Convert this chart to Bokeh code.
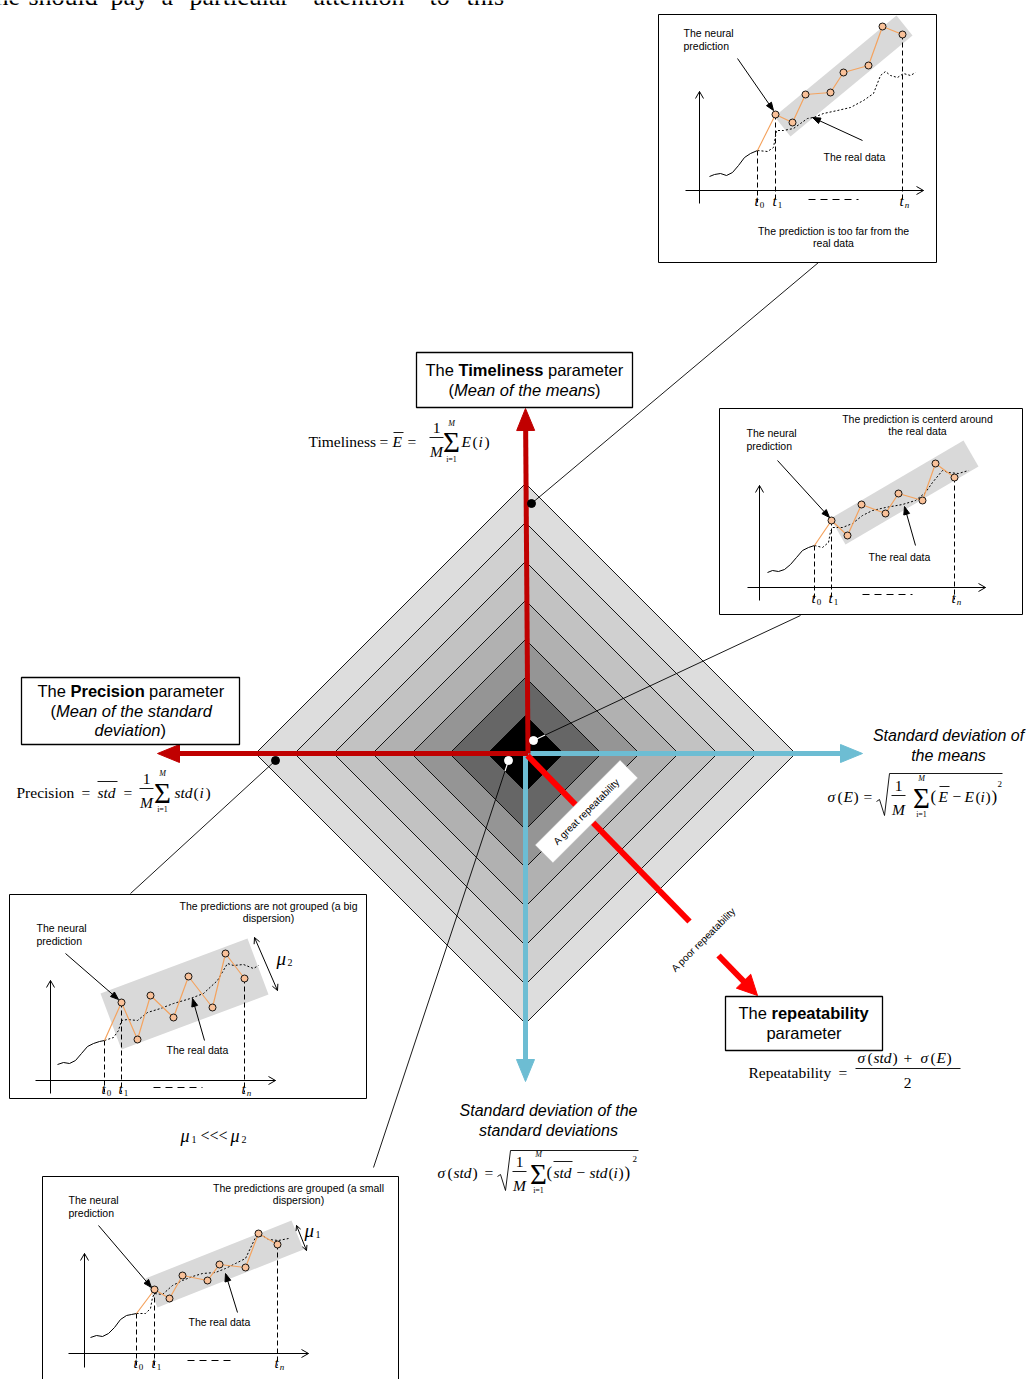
import numpy as np
from bokeh.plotting import figure
from bokeh.models import Range1d
from bokeh.core.properties import value
from bokeh.embed import file_html
from bokeh.resources import INLINE

# ---------------- data (reference pixel coordinates, y grows downward) ----------------
CENTER_X, CENTER_Y = 525, 753
DIAMOND_HALF = [270, 231, 192, 153, 114, 76, 38]
DIAMOND_FILL = ["#dddddd", "#d0d0d0", "#c2c2c2", "#b1b1b1", "#959595", "#666666", "#000000"]

# cut-off body text line at the very top of the page
TOP_WORDS = ["he", "should", "pay", "a", "particular", "attention", "to", "this"]
TOP_WORD_X = [-5, 28, 110, 161, 189, 313, 429, 466]

# inset 1: prediction too far from the real data
FAR_T_X = [757, 775, 902]
FAR_PRED_X = [757, 775, 792, 805, 830, 843, 868, 882, 902]
FAR_PRED_Y = [150, 114, 122, 94, 92, 72, 65, 26, 34]
FAR_WIGGLE_X = [709, 714, 720, 726, 732, 738, 744, 750, 757]
FAR_WIGGLE_Y = [176, 174, 173, 175, 172, 165, 157, 153, 150]
FAR_REAL_X = [757, 767, 773, 776, 783, 793, 800, 807, 813, 823, 837, 850, 863, 873, 880, 885, 890, 897, 903, 910, 915]
FAR_REAL_Y = [150, 151, 147, 130, 130, 128, 123, 118, 117, 113, 110, 107, 100, 93, 75, 71, 75, 77, 73, 75, 72]

# inset 2: prediction centred around the real data
CEN_T_X = [814, 831, 954]
CEN_PRED_X = [814, 831, 847, 861, 885, 898, 922, 935, 954]
CEN_PRED_Y = [545, 520, 535, 504, 513, 493, 500, 463, 477]
CEN_WIGGLE_X = [767, 772, 778, 784, 790, 796, 802, 808, 814]
CEN_WIGGLE_Y = [572, 570, 571, 569, 564, 557, 550, 547, 545]
CEN_REAL_X = [814, 822, 828, 830, 832, 842, 852, 862, 872, 885, 902, 915, 925, 932, 942, 948, 958, 968]
CEN_REAL_Y = [545, 547, 542, 531, 527, 527, 523, 515, 510, 507, 504, 500, 492, 482, 470, 472, 473, 470]

# inset 3: predictions not grouped (big dispersion)
SPR_T_X = [104, 121, 244]
SPR_PRED_X = [104, 121, 137, 150, 173, 188, 212, 225, 244]
SPR_PRED_Y = [1040, 1002, 1039, 995, 1017, 976, 1007, 953, 978]
SPR_WIGGLE_X = [57, 63, 69, 75, 81, 87, 93, 99, 104]
SPR_WIGGLE_Y = [1064, 1062, 1063, 1060, 1053, 1046, 1043, 1041, 1040]
SPR_REAL_X = [104, 113, 118, 121, 127, 137, 147, 160, 173, 190, 203, 217, 227, 233, 243, 253, 258]
SPR_REAL_Y = [1040, 1037, 1030, 1020, 1019, 1020, 1012, 1008, 1003, 998, 993, 980, 963, 965, 964, 968, 965]

# inset 4: predictions grouped (small dispersion)
GRP_T_X = [136, 154, 277]
GRP_PRED_X = [136, 154, 169, 182, 207, 219, 245, 258, 277]
GRP_PRED_Y = [1313, 1289, 1298, 1275, 1280, 1264, 1267, 1233, 1244]
GRP_WIGGLE_X = [90, 96, 102, 108, 114, 120, 126, 131, 136]
GRP_WIGGLE_Y = [1337, 1335, 1336, 1333, 1327, 1319, 1315, 1314, 1313]
GRP_REAL_X = [136, 145, 150, 152, 154, 162, 172, 182, 192, 202, 215, 225, 235, 245, 255, 262, 268, 278, 288]
GRP_REAL_Y = [1313, 1313, 1308, 1297, 1293, 1294, 1285, 1280, 1276, 1273, 1272, 1268, 1263, 1258, 1237, 1235, 1239, 1240, 1238]

T_LABELS = ["0", "1", "n"]

# ---------------- figure ----------------
p = figure(width=1029, height=1379, x_range=Range1d(0, 1029), y_range=Range1d(1379, 0),
           output_backend="svg", toolbar_location=None, min_border=0,
           x_axis_location=None, y_axis_location=None)
p.xgrid.visible = False
p.ygrid.visible = False
p.outline_line_color = None
p.background_fill_color = "white"

SANS = "Liberation Sans"
SERIF = "Liberation Serif"
ORANGE = "#f4a35f"
DARKRED = "#c00000"
RED = "#ff0000"
BLUE = "#6dbdd3"


def T(x, y, s, size=10.5, font=SANS, style="normal", align="left", baseline="middle", angle=0.0, color="black"):
    p.text(x=[x], y=[y], text=[s], text_font=value(font), text_font_size=f"{size}px",
           text_font_style=style, text_align=align, text_baseline=baseline, angle=angle,
           text_color=color)


def L(xs, ys, color="black", width=1.0, dash="solid"):
    p.line(xs, ys, line_color=color, line_width=width, line_dash=dash)


def head(x1, y1, ux, uy, hl, hw, color, filled=True, lw=1.0):
    bx, by = x1 - ux * hl, y1 - uy * hl
    px, py = -uy, ux
    xs = [bx + px * hw / 2, x1, bx - px * hw / 2]
    ys = [by + py * hw / 2, y1, by - py * hw / 2]
    if filled:
        p.patch(xs, ys, fill_color=color, line_color=color, line_width=1)
    else:
        L(xs, ys, color, lw)


def arrow(x0, y0, x1, y1, color="black", lw=1.0, hl=8, hw=6, filled=True, both=False):
    d = np.hypot(x1 - x0, y1 - y0)
    ux, uy = (x1 - x0) / d, (y1 - y0) / d
    cut = hl * 0.7 if filled else 0
    sx, sy = (x0 + ux * cut, y0 + uy * cut) if both else (x0, y0)
    L([sx, x1 - ux * cut], [sy, y1 - uy * cut], color, lw)
    head(x1, y1, ux, uy, hl, hw, color, filled, lw)
    if both:
        head(x0, y0, -ux, -uy, hl, hw, color, filled, lw)


def t_label(x, yc, sub):
    T(x - 1, yc, "t", 15, SERIF, "italic", "center")
    T(x + 4.5, yc + 4, sub, 9, SERIF, "italic" if sub == "n" else "normal", "center")


def inset(box, yaxis, xaxis, t_x, t_c, t_top, dash_seg, band,
          pred_x, pred_y, wig_x, wig_y, real_x, real_y,
          neural_xy, neural_arrow, real_xy, real_arrow, caption, cap_xy):
    x0, y0, x1, y1 = box
    p.quad(left=[x0], right=[x1], top=[y0], bottom=[y1], fill_color="white",
           line_color="black", line_width=1)
    p.patch([c[0] for c in band], [c[1] for c in band], fill_color="#d9d9d9", line_color=None)
    arrow(yaxis[0], yaxis[1], yaxis[0], yaxis[2], hl=7, hw=8, filled=False)
    arrow(xaxis[1], xaxis[0], xaxis[2], xaxis[0], hl=7, hw=8, filled=False)
    for tx, ty in zip(t_x, t_top):
        L([tx, tx], [ty, xaxis[0] + 12], dash="5 3")
    L([dash_seg[0], dash_seg[1]], [dash_seg[2], dash_seg[2]], dash="7 5")
    for tx, s in zip(t_x, T_LABELS):
        t_label(tx, t_c, s)
    L(wig_x, wig_y, "black", 1)
    L(real_x, real_y, "black", 1, "2 2")
    L(pred_x, pred_y, ORANGE, 1.2)
    p.scatter(pred_x[1:], pred_y[1:], size=7, fill_color="#f9c199", line_color="black", line_width=0.9)
    T(neural_xy[0], neural_xy[1], "The neural")
    T(neural_xy[0], neural_xy[1] + 13, "prediction")
    arrow(*neural_arrow, hl=8, hw=6)
    T(real_xy[0], real_xy[1], "The real data")
    arrow(*real_arrow, hl=8, hw=6)
    for i, line in enumerate(caption):
        T(cap_xy[0], cap_xy[1] + 12.5 * i, line, align="center")


# ---------------- top cut-off text ----------------
for wx, w in zip(TOP_WORD_X, TOP_WORDS):
    T(wx, -4, w, 26, SERIF)

# ---------------- diamonds ----------------
xs = [[CENTER_X - h, CENTER_X, CENTER_X + h, CENTER_X] for h in DIAMOND_HALF]
ys = [[CENTER_Y, CENTER_Y - h, CENTER_Y, CENTER_Y + h] for h in DIAMOND_HALF]
p.patches(xs, ys, fill_color=DIAMOND_FILL, line_color="black", line_width=0.9)

inner = DIAMOND_HALF[-1]


def link(xa, ya, xd, yd, dot_color):
    L([xa, xd], [ya, yd], "black", 0.9)
    dx, dy = xa - xd, ya - yd
    ts = np.linspace(0, 1, 2001)
    inside = np.abs(xd + dx * ts - CENTER_X) + np.abs(yd + dy * ts - CENTER_Y) <= inner
    if inside[0]:
        tmax = ts[np.argmin(inside)]
        L([xd, xd + dx * tmax], [yd, yd + dy * tmax], "white", 1.2)
    p.scatter([xd], [yd], size=8, fill_color=dot_color, line_color=dot_color)


# ---------------- axes of the diamond ----------------
arrow(CENTER_X, CENTER_Y, 862, CENTER_Y, BLUE, 5, hl=22, hw=18)
arrow(CENTER_X, CENTER_Y, CENTER_X, 1081, BLUE, 5, hl=22, hw=18)
arrow(CENTER_X + 2.5, CENTER_Y, CENTER_X, 408, DARKRED, 5, hl=22, hw=18)
arrow(CENTER_X + 2.5, CENTER_Y, 157, CENTER_Y, DARKRED, 5, hl=22, hw=18)

link(818, 262, 531, 503, "black")
link(800, 615, 533, 740, "white")
link(130, 893, 275, 760, "black")
link(373, 1167, 508, 760, "white")

# repeatability direction
L([CENTER_X + 2, 689], [CENTER_Y + 2, 921], RED, 6)
p.rect(x=[586], y=[811], width=120, height=25, angle=np.pi / 4, width_units="screen",
       height_units="screen", fill_color="white", line_color="#bbbbbb", line_width=0.5)
T(586, 811, "A great repeatability", 10, angle=np.pi / 4, align="center")
T(703, 939, "A poor repeatability", 10, angle=np.pi / 4, align="center")
arrow(718, 955, 757, 995, RED, 6, hl=20, hw=20)

# ---------------- parameter boxes ----------------
def box(x0, y0, x1, y1):
    p.quad(left=[x0], right=[x1], top=[y0], bottom=[y1], fill_color="white",
           line_color="black", line_width=1.3)


box(416, 352, 632, 407)
T(425, 369, "The", 16.5)
T(458, 369, "Timeliness", 16.5, style="bold")
T(547.5, 369, "parameter", 16.5)
T(448, 389, "(", 16.5)
T(453.5, 389, "Mean of the means", 16.5, style="italic")
T(594.5, 389, ")", 16.5)

box(21, 677, 239, 744)
T(37, 690, "The", 16.5)
T(70, 690, "Precision", 16.5, style="bold")
T(148.5, 690, "parameter", 16.5)
T(50, 710, "(", 16.5)
T(55.5, 710, "Mean of the standard", 16.5, style="italic")
T(94, 729, "deviation", 16.5, style="italic")
T(160, 729, ")", 16.5)

box(725, 996, 882, 1050)
T(738, 1012, "The", 16.5)
T(771, 1012, "repeatability", 16.5, style="bold")
T(803.5, 1032, "parameter", 16.5, align="center")

T(948, 735, "Standard deviation of", 16, style="italic", align="center")
T(948, 755, "the means", 16, style="italic", align="center")
T(548, 1110, "Standard deviation of the", 16, style="italic", align="center")
T(548, 1130, "standard deviations", 16, style="italic", align="center")

# ---------------- formulas ----------------
FS = 15.5


def F(x, y, s, size=FS, style="normal", align="left"):
    T(x, y, s, size, SERIF, style, align, "middle")


def frac1M(xc, ybar):
    F(xc, ybar - 10, "1", align="center")
    L([xc - 7, xc + 7], [ybar, ybar], "black", 0.9)
    F(xc, ybar + 14, "M", style="italic", align="center")


def sigma(xc, yc):
    F(xc, yc, "\u03a3", 29, align="center")
    F(xc, yc - 19, "M", 8, style="italic", align="center")
    F(xc, yc + 17, "i=1", 8, align="center")


def radical(x0, ymid, ybot, ytop, xend):
    L([x0, x0 + 3, x0 + 8, x0 + 13, xend], [ymid + 2, ymid, ybot, ytop, ytop], "black", 0.9)


# Timeliness
F(308, 441, "Timeliness")
F(379, 441, "=")
F(392, 441, "E", style="italic")
L([393, 403], [432, 432], "black", 0.9)
F(407, 441, "=")
frac1M(436, 437)
sigma(451, 441.5)
F(461, 441, "E", style="italic")
F(472, 441, "(")
F(478, 441, "i", style="italic")
F(484, 441, ")")

# Precision
F(16, 792, "Precision")
F(81, 792, "=")
F(97, 792, "std", style="italic")
L([97, 117], [781, 781], "black", 0.9)
F(123, 792, "=")
frac1M(146, 788)
sigma(162, 792)
F(174, 792, "std", style="italic")
F(193, 792, "(")
F(199, 792, "i", style="italic")
F(205, 792, ")")

# sigma(E)
F(827, 796, "\u03c3", style="italic")
F(837, 796, "(")
F(843, 796, "E", style="italic")
F(853, 796, ")")
F(863, 796, "=")
radical(876, 799, 815, 773, 1002)
frac1M(898, 795)
sigma(921, 797)
F(930, 796, "(", 17)
F(938, 796, "E", style="italic")
L([939, 949], [786, 786], "black", 0.9)
F(952, 796, "\u2212")
F(964, 796, "E", style="italic")
F(975, 796, "(")
F(980, 796, "i", style="italic")
F(985, 796, ")")
F(991, 796, ")", 17)
F(997, 783, "2", 9)

# sigma(std)
F(437, 1172, "\u03c3", style="italic")
F(447, 1172, "(")
F(453, 1172, "std", style="italic")
F(472, 1172, ")")
F(484, 1172, "=")
radical(497, 1174, 1190, 1150, 638)
frac1M(519, 1171)
sigma(538, 1173)
F(546, 1172, "(", 17)
F(553, 1172, "std", style="italic")
L([553, 572], [1161, 1161], "black", 0.9)
F(576, 1172, "\u2212")
F(589, 1172, "std", style="italic")
F(608, 1172, "(")
F(613, 1172, "i", style="italic")
F(618, 1172, ")")
F(624, 1172, ")", 17)
F(632, 1158, "2", 9)

# Repeatability
F(748, 1072, "Repeatability")
F(838, 1072, "=")
F(857, 1057, "\u03c3", style="italic")
F(867, 1057, "(")
F(873, 1057, "std", style="italic")
F(892, 1057, ")")
F(903, 1057, "+")
F(920, 1057, "\u03c3", style="italic")
F(930, 1057, "(")
F(936, 1057, "E", style="italic")
F(946, 1057, ")")
L([855, 960], [1068, 1068], "black", 0.9)
F(907, 1082, "2", align="center")

# mu1 <<< mu2
F(180, 1135, "\u03bc", 18, style="italic")
F(191, 1139, "1", 10)
F(200, 1135, "<<<", 16)
F(230, 1135, "\u03bc", 18, style="italic")
F(241, 1139, "2", 10)

# ---------------- insets ----------------
inset((658, 14, 936, 262), (699, 203, 91), (190, 685, 923), FAR_T_X, 200,
      [FAR_PRED_Y[0], FAR_PRED_Y[1], FAR_PRED_Y[-1]], (808, 858, 199),
      [(774, 116), (896, 15), (912, 35), (790, 136)],
      FAR_PRED_X, FAR_PRED_Y, FAR_WIGGLE_X, FAR_WIGGLE_Y, FAR_REAL_X, FAR_REAL_Y,
      (683, 32), (737, 58, 773, 110), (823, 156), (862, 140, 812, 117),
      ["The prediction is too far from the", "real data"], (833, 230))

inset((719, 408, 1022, 614), (759, 600, 485), (587, 747, 985), CEN_T_X, 597,
      [CEN_PRED_Y[0], CEN_PRED_Y[1], CEN_PRED_Y[-1]], (862, 912, 594),
      [(830, 518), (963, 440), (978, 466), (845, 544)],
      CEN_PRED_X, CEN_PRED_Y, CEN_WIGGLE_X, CEN_WIGGLE_Y, CEN_REAL_X, CEN_REAL_Y,
      (746, 432), (777, 460, 829, 517), (868, 556), (915, 545, 904, 506),
      ["The prediction is centerd around", "the real data"], (917, 418))

inset((9, 894, 366, 1098), (50, 1093, 980), (1080, 35, 275), SPR_T_X, 1088,
      [SPR_PRED_Y[0], SPR_PRED_Y[1], SPR_PRED_Y[-1]], (153, 202, 1087),
      [(100, 993), (247, 938), (268, 994), (121, 1049)],
      SPR_PRED_X, SPR_PRED_Y, SPR_WIGGLE_X, SPR_WIGGLE_Y, SPR_REAL_X, SPR_REAL_Y,
      (36, 927), (65, 953, 118, 999), (166, 1049), (204, 1040, 192, 998),
      ["The predictions are not grouped (a big", "dispersion)"], (268, 905))
arrow(254, 937, 277, 990, hl=6, hw=6, filled=False, both=True)
F(276, 958, "\u03bc", 19, style="italic")
F(287, 962, "2", 10)

inset((42, 1176, 398, 1400), (84, 1367, 1253), (1353, 68, 308), GRP_T_X, 1362,
      [GRP_PRED_Y[0], GRP_PRED_Y[1], GRP_PRED_Y[-1]], (187, 235, 1360),
      [(145, 1278), (291, 1220), (303, 1249), (157, 1307)],
      GRP_PRED_X, GRP_PRED_Y, GRP_WIGGLE_X, GRP_WIGGLE_Y, GRP_REAL_X, GRP_REAL_Y,
      (68, 1199), (98, 1225, 151, 1287), (188, 1321), (237, 1312, 225, 1273),
      ["The predictions are grouped (a small", "dispersion)"], (298, 1187))
arrow(296, 1225, 306, 1250, hl=5, hw=5, filled=False, both=True)
F(304, 1230, "\u03bc", 19, style="italic")
F(315, 1234, "1", 10)

open("out.html", "w").write(file_html(p, INLINE))
